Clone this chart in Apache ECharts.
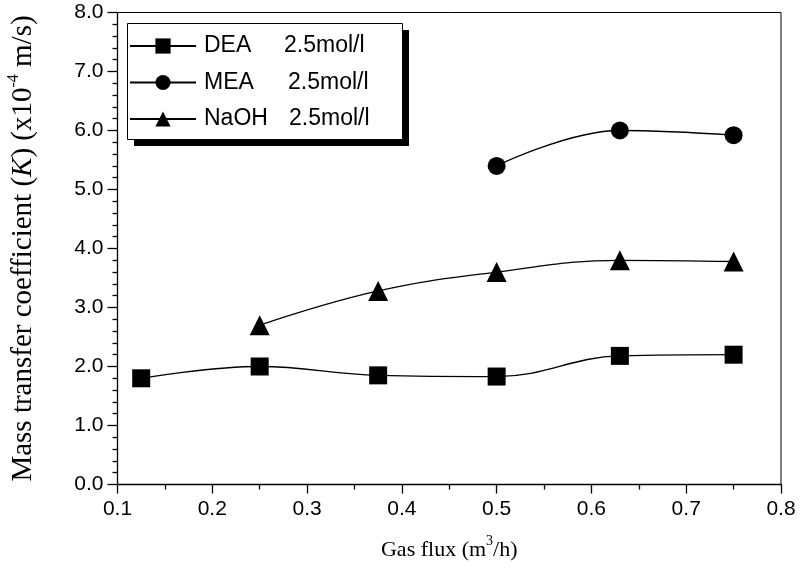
<!DOCTYPE html>
<html>
<head>
<meta charset="utf-8">
<script src="https://cdn.jsdelivr.net/npm/echarts@6/dist/echarts.min.js"></script>
<style>html,body{margin:0;padding:0;background:#fff}#c{width:801px;height:576px}</style>
</head>
<body>
<div id="c"></div>
<script>
var xDEA = [0.125, 0.25, 0.375, 0.5, 0.63, 0.75];
var yDEA = [1.8, 2.0, 1.85, 1.83, 2.18, 2.2];
var xMEA = [0.5, 0.63, 0.75];
var yMEA = [5.4, 6.0, 5.92];
var xNaOH = [0.25, 0.375, 0.5, 0.63, 0.75];
var yNaOH = [2.7, 3.28, 3.6, 3.8, 3.78];
var seriesNames = ['DEA', 'MEA', 'NaOH'];
var concText = '2.5mol/l';

function pairs(xs, ys) { return xs.map(function (x, i) { return [x, ys[i]]; }); }

var chart = echarts.init(document.getElementById('c'), null, {renderer: 'canvas'});
var sans = 'Arial, "Liberation Sans", sans-serif';
var serif = '"Times New Roman", "Liberation Serif", serif';
var line = function (name, data, symbol, size) {
  return {
    name: name, type: 'line', data: data, smooth: 0.4,
    symbol: symbol, symbolSize: size,
    lineStyle: {color: '#000', width: 1.3},
    itemStyle: {color: '#000'},
    z: 3
  };
};
chart.setOption({
  animation: false,
  backgroundColor: '#fff',
  grid: {left: 117.5, right: 20, top: 12.5, bottom: 91.5, show: true, borderColor: '#000', borderWidth: 1,
    containLabel: false, outerBoundsMode: 'none'},
  graphic: [
    {type: 'rect', z: 10, shape: {x: 134, y: 30, width: 275, height: 116}, style: {fill: '#000'}},
    {type: 'rect', z: 11, shape: {x: 127.5, y: 23.5, width: 275, height: 116}, style: {fill: '#fff', stroke: '#000', lineWidth: 1}}
  ],
  legend: {
    z: 20,
    orient: 'vertical', left: 127, top: 23,
    padding: [11.5, 20, 10, 2],
    itemGap: 13.5, itemWidth: 66, itemHeight: 19,
    data: seriesNames,
    formatter: function (n) {
      var key = n === 'DEA' ? 'a' : (n === 'MEA' ? 'b' : 'c');
      return '{' + key + '|' + n + '}{t|' + concText + '}';
    },
    textStyle: {
      color: '#000', fontFamily: sans, fontSize: 23, padding: [0, 0, 0, 3],
      rich: {
        a: {width: 80, fontSize: 23, fontFamily: sans, color: '#000'},
        b: {width: 84, fontSize: 23, fontFamily: sans, color: '#000'},
        c: {width: 85, fontSize: 23, fontFamily: sans, color: '#000'},
        t: {fontSize: 23, fontFamily: sans, color: '#000'}
      }
    }
  },
  xAxis: {
    type: 'value', min: 0.1, max: 0.8, interval: 0.1,
    name: '{n|Gas flux (m}{s|3}{n|/h)}', nameLocation: 'middle', nameGap: 50,
    nameTextStyle: {rich: {
      n: {fontFamily: serif, fontSize: 22, color: '#000', lineHeight: 27, verticalAlign: 'bottom'},
      s: {fontFamily: serif, fontSize: 14, color: '#000', lineHeight: 27, verticalAlign: 'top'}
    }},
    axisLine: {lineStyle: {color: '#000', width: 1.3}},
    axisTick: {inside: false, length: 9, lineStyle: {color: '#000', width: 1.3}},
    minorTick: {show: true, splitNumber: 2, length: 5, lineStyle: {color: '#000', width: 1.3}},
    splitLine: {show: false},
    axisLabel: {color: '#000', fontFamily: sans, fontSize: 21, margin: 14,
      formatter: function (v) { return v.toFixed(1); }}
  },
  yAxis: {
    type: 'value', min: 0, max: 8, interval: 1,
    name: '{n|Mass transfer coefficient (}{i|K}{n|) (x10}{s|-4}{n| m/s)}',
    nameLocation: 'middle', nameGap: 80, nameRotate: 90,
    nameTextStyle: {rich: {
      n: {fontFamily: serif, fontSize: 29, color: '#000', lineHeight: 32, verticalAlign: 'bottom'},
      i: {fontFamily: serif, fontSize: 29, fontStyle: 'italic', color: '#000', lineHeight: 32, verticalAlign: 'bottom'},
      s: {fontFamily: serif, fontSize: 16, color: '#000', lineHeight: 32, verticalAlign: 'top'}
    }},
    axisLine: {show: true, lineStyle: {color: '#000', width: 1.3}},
    axisTick: {show: true, inside: false, length: 10, lineStyle: {color: '#000', width: 1.3}},
    minorTick: {show: true, splitNumber: 5, length: 5, lineStyle: {color: '#000', width: 1.3}},
    splitLine: {show: false},
    axisLabel: {color: '#000', fontFamily: sans, fontSize: 21, margin: 14,
      formatter: function (v) { return v.toFixed(1); }}
  },
  series: [
    line('DEA', pairs(xDEA, yDEA), 'rect', 18),
    line('MEA', pairs(xMEA, yMEA), 'circle', 18),
    line('NaOH', pairs(xNaOH, yNaOH), 'triangle', 20)
  ]
});
</script>
</body>
</html>
